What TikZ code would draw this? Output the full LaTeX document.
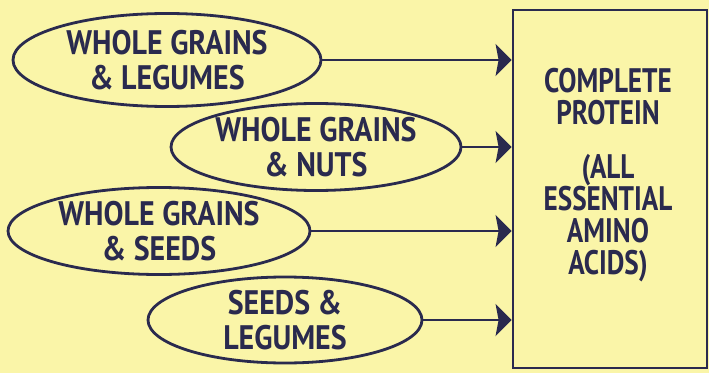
\documentclass[tikz,border=0pt]{standalone}
\usepackage{fontspec}
\setmainfont[FakeStretch=0.88]{PT Sans}
\newfontfamily\resultfont[FakeStretch=0.8]{PT Sans}
\usetikzlibrary{shapes.geometric,arrows.meta}
\definecolor{bg}{RGB}{250,245,168}
\definecolor{ink}{RGB}{42,42,78}
\begin{document}
\begin{tikzpicture}[x=1pt,y=1pt,
  food/.style={ellipse,draw=ink,line width=2.8pt,inner sep=0pt,align=center,text=ink,
    font=\fontsize{34}{35}\selectfont\bfseries},
  result/.style={rectangle,draw=ink,line width=2.8pt,inner sep=0pt},
  resulttext/.style={text=ink,align=center,inner sep=0pt,
    font=\resultfont\fontsize{34}{32}\selectfont\bfseries},
  link/.style={draw=ink,line width=2.8pt,-{Stealth[length=16pt,width=32pt,inset=3pt]}}]
\fill[bg] (0,0) rectangle (709,373);
\useasboundingbox (0,0) rectangle (709,373);
\node[result,minimum width=194pt,minimum height=358pt] (box) at (610,184) {};
\node[resulttext] (txt) at (608,198)
  {COMPLETE\\PROTEIN\\[22pt](ALL\\ESSENTIAL\\AMINO\\ACIDS)};
\node[food,minimum width=308pt,minimum height=93pt] (e1) at (167,313) {WHOLE GRAINS\\\& LEGUMES};
\node[food,minimum width=290pt,minimum height=87pt] (e2) at (316,226) {WHOLE GRAINS\\\& NUTS};
\node[food,minimum width=302pt,minimum height=87pt] (e3) at (159,142) {WHOLE GRAINS\\\& SEEDS};
\node[food,minimum width=274pt,minimum height=86pt] (e4) at (285,53) {SEEDS \&\\LEGUMES};
\draw[link] (e1.east) -- (e1.east -| box.west);
\draw[link] (e2.east) -- (e2.east -| box.west);
\draw[link] (e3.east) -- (e3.east -| box.west);
\draw[link] (e4.east) -- (e4.east -| box.west);
\end{tikzpicture}
\end{document}
